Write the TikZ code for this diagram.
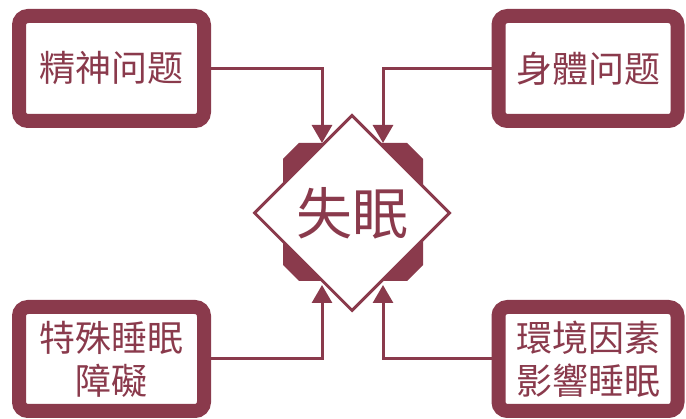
\documentclass[tikz,border=0pt]{standalone}
\usepackage{fontspec}
\newfontfamily\cjk{Noto Sans CJK TC}
\usetikzlibrary{shapes.geometric,arrows.meta}
\definecolor{maroon}{RGB}{138,58,76}
\tikzset{
  box/.style={draw=maroon, line width=14pt, fill=white, rounded corners=9pt,
    inner sep=0pt, text=maroon, align=center,
    font=\cjk\fontsize{36}{43}\selectfont},
  conn/.style={draw=maroon, line width=3pt,
    -{Triangle[width=20pt,length=18pt]}},
  core/.style={diamond, draw=maroon, line width=3pt, fill=white,
    minimum width=196pt, minimum height=196pt, inner sep=0pt,
    text=maroon, font=\cjk\fontsize{56}{60}\selectfont},
}
\begin{document}
\begin{tikzpicture}[x=1pt,y=-1pt]
\useasboundingbox (0,0) rectangle (686,419);
% boxes' positions (drawn later, after connectors)
\coordinate (c1) at (111.5,68.5);
\coordinate (c2) at (588,68.5);
\coordinate (c3) at (111.5,359);
\coordinate (c4) at (588,359);
% arrow tips at the diamond
\coordinate (t1) at (322,143);
\coordinate (t2) at (383,143);
\coordinate (t3) at (322,285);
\coordinate (t4) at (383,285);
% octagon behind the diamond
\fill[maroon] (283,159) -- (299,143) -- (407,143) -- (423,159) -- (423,265)
  -- (407,281) -- (299,281) -- (283,265) -- cycle;
\node[core] (d) at (352,213) {失眠};
% connectors
\draw[conn] (c1) -| (t1);
\draw[conn] (c2) -| (t2);
\draw[conn] (c3) -| (t3);
\draw[conn] (c4) -| (t4);
% boxes
\node[box, minimum width=185pt, minimum height=105pt] (b1) at (c1) {精神问题};
\node[box, minimum width=179pt, minimum height=105pt] (b2) at (c2) {身體问题};
\node[box, minimum width=185pt, minimum height=104pt] (b3) at (c3) {特殊睡眠\\障礙};
\node[box, minimum width=179pt, minimum height=104pt] (b4) at (c4) {環境因素\\影響睡眠};
\end{tikzpicture}
\end{document}
